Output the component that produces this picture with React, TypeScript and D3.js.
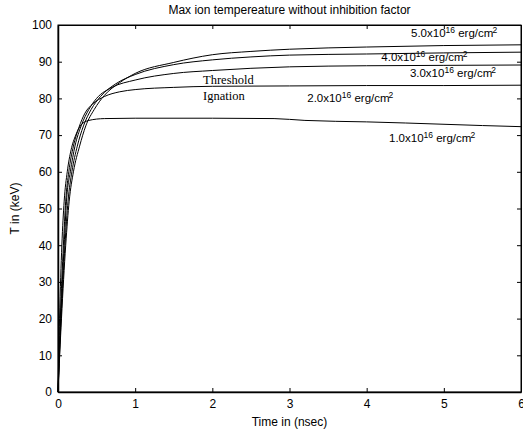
import React, { useEffect, useRef } from 'react';
import * as d3 from 'd3';

// time in ns, T in keV, one array per laser fluence
const curve1: [number, number][] = [[0, 0], [0.02, 20], [0.05, 40], [0.08, 52], [0.12, 60], [0.17, 66], [0.23, 70], [0.3, 72.8], [0.4, 74], [0.6, 74.5], [1, 74.6], [2, 74.6], [2.8, 74.5], [3.2, 74.0], [4, 73.6], [4.5, 73.3], [5.5, 72.6], [6, 72.3]];
const curve2: [number, number][] = [[0, 0], [0.03, 20], [0.07, 40], [0.1, 52], [0.14, 60], [0.2, 67], [0.27, 72], [0.35, 76], [0.45, 78.5], [0.6, 80.5], [0.8, 81.8], [1.0, 82.4], [1.5, 83], [2, 83.3], [3, 83.4], [4, 83.5], [5, 83.5], [6, 83.6]];
const curve3: [number, number][] = [[0, 0], [0.035, 20], [0.08, 40], [0.11, 52], [0.16, 60], [0.22, 67], [0.3, 72.5], [0.4, 77], [0.5, 80], [0.7, 83], [1, 85], [1.5, 86.8], [2, 87.6], [3, 88.6], [4, 88.9], [5, 89], [6, 89.1]];
const curve4: [number, number][] = [[0, 0], [0.04, 20], [0.09, 40], [0.13, 52], [0.18, 60], [0.25, 67], [0.33, 72.5], [0.43, 77], [0.55, 80.5], [0.75, 84], [1, 86.5], [1.5, 89.2], [2, 90.5], [2.5, 91.3], [3, 91.8], [4, 92.1], [5, 92.4], [6, 92.6]];
const curve5: [number, number][] = [[0, 0], [0.045, 20], [0.1, 40], [0.145, 52], [0.2, 60], [0.28, 67], [0.36, 72.5], [0.47, 77], [0.6, 80.8], [0.8, 84.3], [1, 86.8], [1.5, 89.8], [2, 91.9], [2.5, 92.8], [3, 93.4], [4, 94], [5, 94.4], [6, 94.6]];

const curves = [curve1, curve2, curve3, curve4, curve5];
const fluences = ['1.0', '2.0', '3.0', '4.0', '5.0'];
// label anchor in data coords (x ns, T keV)
const labelPos: [number, number][] = [[4.29, 68.1], [3.23, 79.0], [4.56, 85.7], [4.19, 90.2], [4.575, 96.7]];

const xTicks = [0, 1, 2, 3, 4, 5, 6];
const yTicks = [0, 10, 20, 30, 40, 50, 60, 70, 80, 90, 100];

const App = () => {
    const ref = useRef<SVGSVGElement | null>(null);

    useEffect(() => {
        const width = 523;
        const height = 435;
        const margin = { top: 25, right: 2, bottom: 43, left: 58 };
        const w = width - margin.left - margin.right;
        const h = height - margin.top - margin.bottom;

        const svg = d3.select(ref.current);
        svg.selectAll('*').remove();

        const x = d3.scaleLinear().domain([0, 6]).range([0, w]);
        const y = d3.scaleLinear().domain([0, 100]).range([h, 0]);

        const g = svg.append('g').attr('transform', `translate(${margin.left},${margin.top})`);
        const font = 'Liberation Sans, Arial, sans-serif';
        const serif = 'Liberation Serif, Times New Roman, serif';

        // curves
        const line = d3.line<[number, number]>()
            .x((d) => x(d[0]))
            .y((d) => y(d[1]))
            .curve(d3.curveMonotoneX);

        g.selectAll('.curve')
            .data(curves)
            .enter()
            .append('path')
            .attr('d', (d) => line(d))
            .attr('fill', 'none')
            .attr('stroke', '#000')
            .attr('stroke-width', 1);

        // box
        g.append('rect')
            .attr('width', w).attr('height', h)
            .attr('fill', 'none').attr('stroke', '#000').attr('stroke-width', 1);

        // axes with inward ticks
        const axB = g.append('g').attr('transform', `translate(0,${h})`)
            .call(d3.axisBottom(x).tickValues(xTicks).tickFormat(d3.format('d')).tickSizeInner(-4).tickSizeOuter(0).tickPadding(7));
        const axT = g.append('g')
            .call(d3.axisTop(x).tickValues(xTicks).tickSizeInner(-4).tickSizeOuter(0).tickFormat(() => ''));
        const axL = g.append('g')
            .call(d3.axisLeft(y).tickValues(yTicks).tickSizeInner(-4).tickSizeOuter(0).tickPadding(6));
        const axR = g.append('g').attr('transform', `translate(${w},0)`)
            .call(d3.axisRight(y).tickValues(yTicks).tickSizeInner(-4).tickSizeOuter(0).tickFormat(() => ''));
        [axB, axT, axL, axR].forEach((a) => {
            a.select('.domain').attr('stroke', '#000');
            a.selectAll('text').attr('font-family', font).attr('font-size', 12).attr('fill', '#000');
        });
        axL.select('.domain').attr('stroke-width', 1.5);
        axB.select('.domain').attr('stroke-width', 1.5);

        // curve labels
        labelPos.forEach((p, i) => {
            const t = g.append('text')
                .attr('x', x(p[0])).attr('y', y(p[1]))
                .attr('font-family', font).attr('font-size', 11.5).attr('fill', '#000');
            t.append('tspan').text(`${fluences[i]}x10`);
            t.append('tspan').attr('dy', -4).attr('font-size', 8.5).text('16');
            t.append('tspan').attr('dy', 4).text(' erg/cm');
            t.append('tspan').attr('dy', -4).attr('font-size', 8.5).attr('dx', -1).text('2');
        });

        g.append('text').attr('x', x(1.88)).attr('y', y(83.9))
            .attr('font-family', serif).attr('font-size', 12.5)
            .text('Threshold');
        g.append('text').attr('x', x(1.88)).attr('y', y(79.7))
            .attr('font-family', serif).attr('font-size', 12.5)
            .text('Ignation');

        // titles
        svg.append('text').attr('x', margin.left + w / 2).attr('y', 14)
            .attr('text-anchor', 'middle').attr('font-family', font).attr('font-size', 12)
            .text('Max ion tempereature without inhibition factor');
        svg.append('text').attr('x', margin.left + w / 2).attr('y', 426)
            .attr('text-anchor', 'middle').attr('font-family', font).attr('font-size', 12)
            .text('Time in (nsec)');
        svg.append('text')
            .attr('transform', `translate(19,${margin.top + h / 2}) rotate(-90)`)
            .attr('text-anchor', 'middle').attr('font-family', font).attr('font-size', 12)
            .text('T in (keV)');
    }, []);

    return (
        <svg ref={ref} width={523} height={435}
            style={{ position: 'absolute', left: 0, top: 0, background: '#fff' }} />
    );
};

export default App;
